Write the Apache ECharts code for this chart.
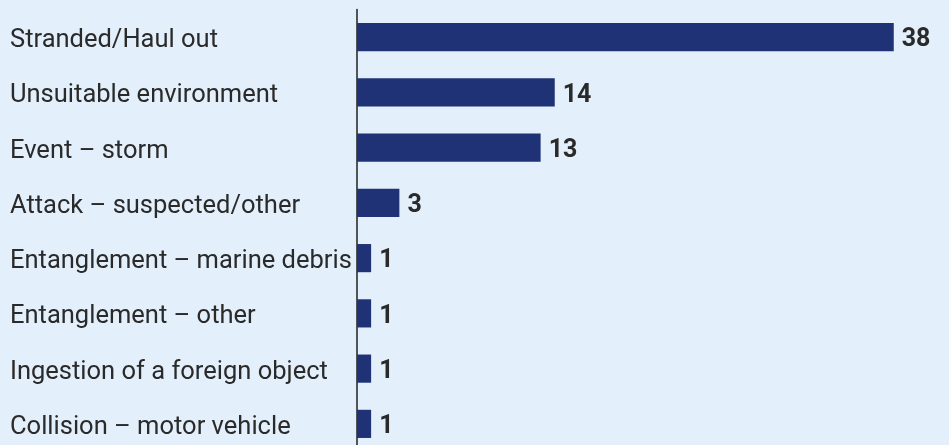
<!DOCTYPE html>
<html>
<head>
<meta charset="utf-8">
<script src="https://cdn.jsdelivr.net/npm/echarts@6/dist/echarts.min.js"></script>
<style>
  html, body { margin: 0; padding: 0; background: #e3f0fb; }
  #chart { width: 949px; height: 445px; }
</style>
</head>
<body>
<div id="chart"></div>
<script>
// Causes of incidents, listed top to bottom
const causes = [
  'Stranded/Haul out',
  'Unsuitable environment',
  'Event – storm',
  'Attack – suspected/other',
  'Entanglement – marine debris',
  'Entanglement – other',
  'Ingestion of a foreign object',
  'Collision – motor vehicle'
];
const counts = [38, 14, 13, 3, 1, 1, 1, 1];

const chart = echarts.init(document.getElementById('chart'));
chart.setOption({
  backgroundColor: '#e3f0fb',
  animation: false,
  grid: {
    left: 357, right: 27, top: 9.5, bottom: -6.5,
    containLabel: false, outerBoundsMode: 'none'
  },
  xAxis: {
    type: 'value', min: 0, max: 40, show: false
  },
  yAxis: {
    type: 'category',
    data: causes,
    inverse: true,
    axisLine: { show: true, lineStyle: { color: '#222222', width: 1.5 } },
    axisTick: { show: false },
    splitLine: { show: false },
    axisLabel: {
      align: 'left',
      margin: 347,
      formatter: '{t|{value}}',
      rich: {
        t: {
          padding: [7, 0, 0, 0],
          color: '#2a2a2a',
          fontFamily: 'Roboto',
          fontSize: 25.5
        }
      }
    }
  },
  series: [{
    type: 'bar',
    data: counts,
    barWidth: '51%',
    itemStyle: { color: '#1f3275' },
    label: {
      show: true,
      position: 'right',
      distance: 8,
      offset: [0, 3],
      color: '#2a2a2a',
      fontFamily: 'Roboto',
      fontWeight: 'bold',
      fontSize: 25
    }
  }]
});
</script>
</body>
</html>
